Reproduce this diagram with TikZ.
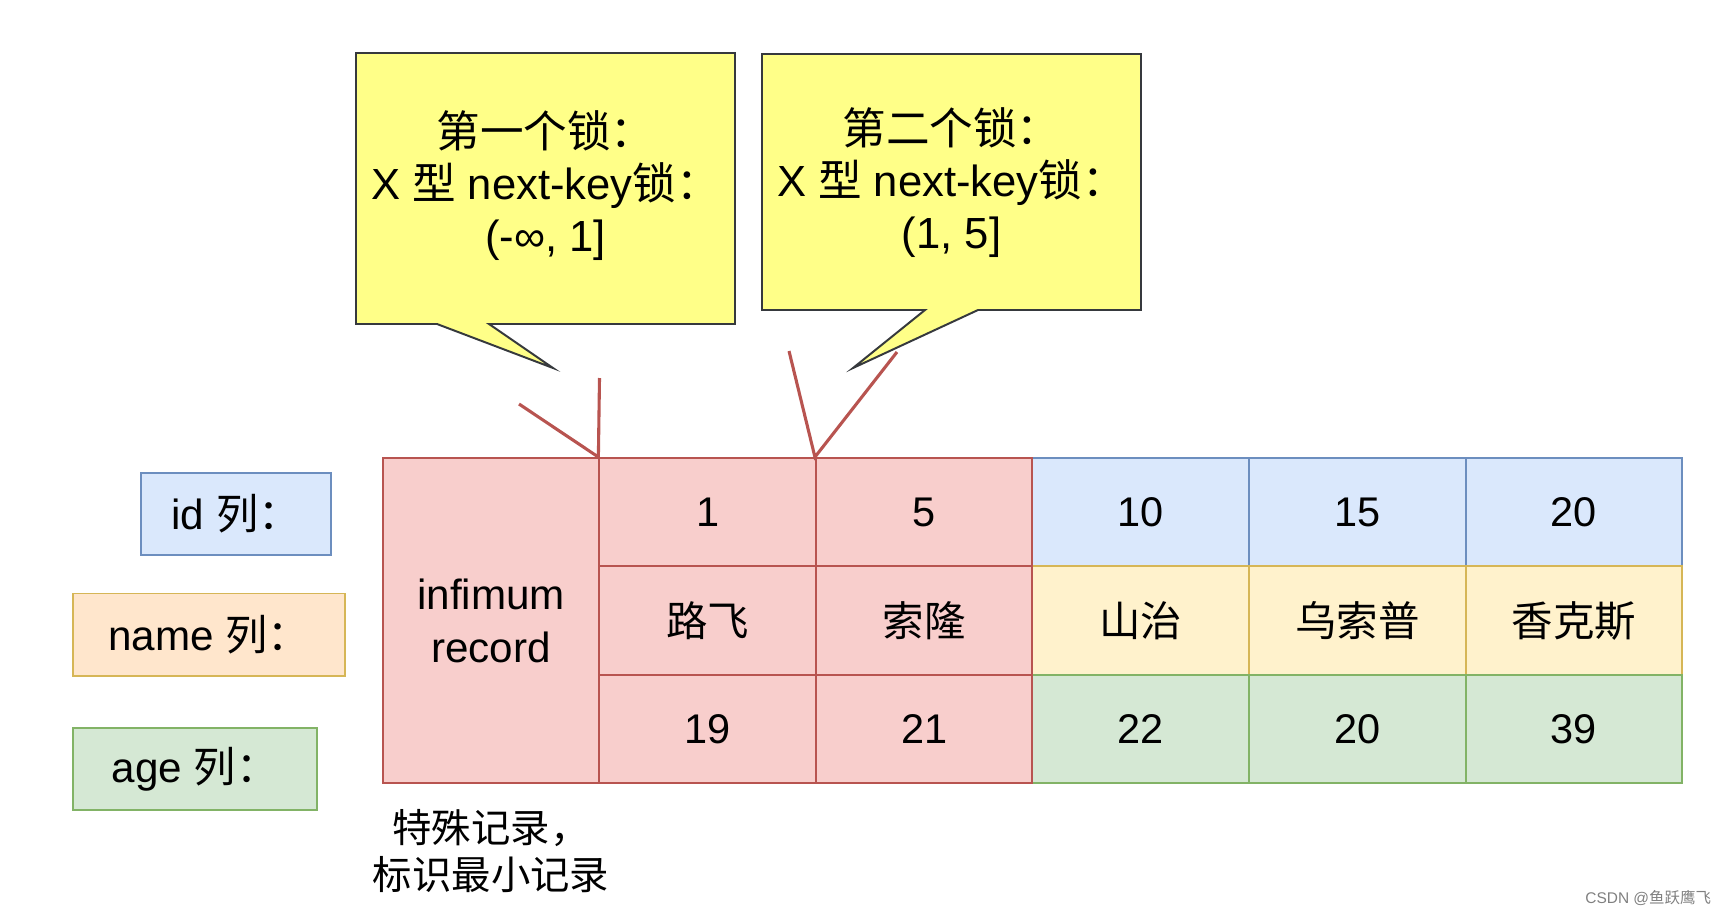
\documentclass[tikz,border=0pt]{standalone}
\usepackage{fontspec}
\setmainfont{Liberation Sans}
\newfontfamily\cjk{Noto Sans CJK SC}
\newcommand\zh[1]{{\cjk #1}}
\usetikzlibrary{calc}
\definecolor{pinkfill}{HTML}{F8CECC}
\definecolor{pinkline}{HTML}{B85450}
\definecolor{bluefill}{HTML}{DAE8FC}
\definecolor{blueline}{HTML}{6C8EBF}
\definecolor{yelfill}{HTML}{FFF2CC}
\definecolor{yelline}{HTML}{D6B656}
\definecolor{orangefill}{HTML}{FFE6CC}
\definecolor{greenfill}{HTML}{D5E8D4}
\definecolor{greenline}{HTML}{82B366}
\definecolor{notefill}{HTML}{FFFF88}
\definecolor{noteline}{HTML}{36393D}
\tikzset{
    cell/.style = {draw, rectangle, line width=1.4pt,
        minimum width=5.4125cm,
        minimum height=2.708cm, inner sep=0pt, font=\fontsize{29.5}{35}\selectfont},
    idcell/.style = {cell, fill=bluefill, draw=blueline},
    namecell/.style = {cell, fill=yelfill, draw=yelline},
    agecell/.style = {cell, fill=greenfill, draw=greenline},
    lockcell/.style = {cell, fill=pinkfill, draw=pinkline},
    colname/.style = {draw, rectangle, line width=1.4pt,
        minimum height=2.05cm, font=\fontsize{30}{36}\selectfont},
    note/.style = {draw=noteline, fill=notefill, line width=1.4pt},
    notetext/.style = {align=center, font=\fontsize{31}{37}\selectfont},
    lockline/.style = {draw=pinkline, line width=2.2pt}
}

\begin{document}
\begin{tikzpicture}[x=0.025cm, y=-0.025cm, node distance=5.4125cm]
    \useasboundingbox (0,0) rectangle (1730,916);
    \draw [note] (356,53) -- (735,53) -- (735,324) -- (489,324) -- (553,368) -- (437,324) -- (356,324) -- cycle;
    \node [notetext] (lock1) at (545.5,186) {\zh{第一个锁：}\\X \zh{型} next-key\zh{锁：}\\(-∞, 1]};
    \draw [note] (762,54) -- (1141,54) -- (1141,310) -- (978,310) -- (853,368) -- (925,310) -- (762,310) -- cycle;
    \node [notetext] (lock2) at (951.5,183) {\zh{第二个锁：}\\X \zh{型} next-key\zh{锁：}\\(1, 5]};
    \node [idcell] (id3) at (1140.75,512.2) {10};
    \node [idcell, right of=id3] (id4) {15};
    \node [idcell, right of=id4] (id5) {20};
    \node [namecell, below of=id3, node distance=2.708cm] (nm3) {\zh{山治}};
    \node [namecell, right of=nm3] (nm4) {\zh{乌索普}};
    \node [namecell, right of=nm4] (nm5) {\zh{香克斯}};
    \node [agecell, below of=nm3, node distance=2.708cm] (ag3) {22};
    \node [agecell, right of=ag3] (ag4) {20};
    \node [agecell, right of=ag4] (ag5) {39};
    \node [lockcell, left of=id3] (id2) {5};
    \node [lockcell, left of=id2] (id1) {1};
    \node [lockcell, left of=nm3] (nm2) {\zh{索隆}};
    \node [lockcell, left of=nm2] (nm1) {\zh{路飞}};
    \node [lockcell, left of=ag3] (ag2) {21};
    \node [lockcell, left of=ag2] (ag1) {19};
    \node [lockcell, left of=nm1, minimum height=8.125cm, align=center, font=\fontsize{30}{37.7}\selectfont] (inf) {infimum\\record};
    \draw [lockline] (519,404) -- (id1.north west) -- (599.5,378);
    \draw [lockline] (789,351) -- (id2.north west) -- (897,352);
    \node [colname, fill=bluefill, draw=blueline, minimum width=4.75cm] (idcol) at (236,514) {id \zh{列：}};
    \node [colname, fill=orangefill, draw=yelline, minimum width=6.8cm] (namecol) at (209,634.5) {name \zh{列：}};
    \node [colname, fill=greenfill, draw=greenline, minimum width=6.1cm] (agecol) at (195,769) {age \zh{列：}};
    \node [align=center, font=\fontsize{28}{34}\selectfont] (infnote) at (491,851) {\zh{特殊记录，}\\\zh{标识最小记录}};
    \node [anchor=east, text=gray, font=\fontsize{11}{13}\selectfont] (wm) at (1716,898) {CSDN @\zh{鱼跃鹰飞}};
\end{tikzpicture}
\end{document}
